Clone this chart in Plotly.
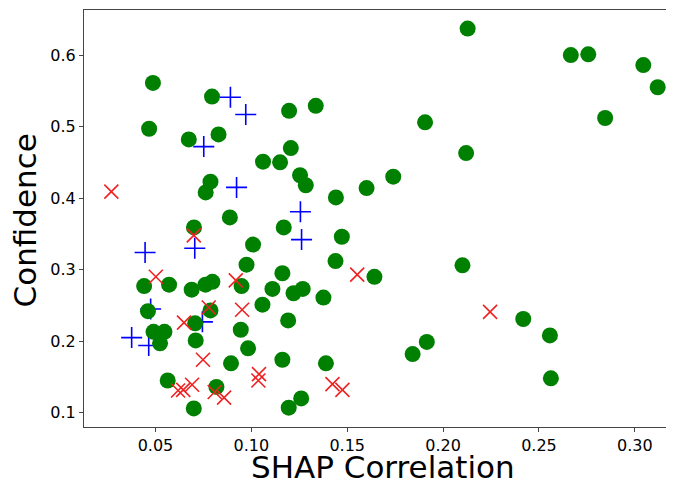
import plotly.graph_objects as go

# Green circles
green_x = [0.0487, 0.0795, 0.1197, 0.1336, 0.0467, 0.0674, 0.0829, 0.1206, 0.1061, 0.1150,
           0.1254, 0.1284, 0.1441, 0.1601, 0.0787, 0.0762, 0.0888, 0.0701, 0.1169, 0.1472,
           0.1009, 0.0975, 0.1439, 0.1162, 0.1642, 0.0441, 0.0571, 0.0689, 0.0761, 0.0797,
           0.0949, 0.1110, 0.1220, 0.1268, 0.1376, 0.1058, 0.0461, 0.0787, 0.0707, 0.1192,
           0.0490, 0.0547, 0.0524, 0.0710, 0.0945, 0.0983, 0.0894, 0.1162, 0.1389, 0.0564,
           0.0818, 0.0700, 0.1195, 0.1260, 0.2128, 0.2666, 0.2757, 0.3044, 0.3119, 0.2845,
           0.1906, 0.2120, 0.1740, 0.2101, 0.2418, 0.2557, 0.1915, 0.1841, 0.2562]
green_y = [0.561, 0.542, 0.522, 0.529, 0.497, 0.482, 0.489, 0.470, 0.451, 0.450,
           0.432, 0.418, 0.401, 0.414, 0.423, 0.408, 0.373, 0.359, 0.359, 0.346,
           0.335, 0.307, 0.312, 0.295, 0.290, 0.277, 0.279, 0.272, 0.279, 0.283,
           0.277, 0.273, 0.267, 0.273, 0.261, 0.251, 0.242, 0.243, 0.225, 0.229,
           0.213, 0.213, 0.197, 0.201, 0.216, 0.190, 0.169, 0.174, 0.169, 0.145,
           0.136, 0.106, 0.107, 0.120, 0.637, 0.600, 0.601, 0.586, 0.555, 0.512,
           0.506, 0.463, 0.430, 0.306, 0.231, 0.208, 0.199, 0.182, 0.148]

# Blue plus markers
blue_x = [0.0891, 0.0971, 0.0752, 0.0923, 0.1256, 0.1262, 0.0446, 0.0705, 0.0475, 0.0745,
          0.0376, 0.0465]
blue_y = [0.541, 0.517, 0.472, 0.415, 0.381, 0.342, 0.324, 0.330, 0.245, 0.227,
          0.205, 0.194]

# Red x markers
red_x = [0.0270, 0.0700, 0.0502, 0.0919, 0.1552, 0.0778, 0.0952, 0.0649, 0.0748, 0.1040,
         0.1037, 0.0618, 0.0645, 0.0691, 0.0809, 0.0858, 0.1423, 0.1475, 0.2245]
red_y = [0.409, 0.348, 0.290, 0.285, 0.293, 0.247, 0.244, 0.226, 0.174, 0.154,
         0.145, 0.131, 0.132, 0.139, 0.129, 0.121, 0.140, 0.132, 0.241]

x_ticks = [0.05, 0.10, 0.15, 0.20, 0.25, 0.30]
x_tick_labels = ["0.05", "0.10", "0.15", "0.20", "0.25", "0.30"]
y_ticks = [0.1, 0.2, 0.3, 0.4, 0.5, 0.6]
y_tick_labels = ["0.1", "0.2", "0.3", "0.4", "0.5", "0.6"]
x_title = "SHAP Correlation"
y_title = "Confidence"

fig = go.Figure()
fig.add_trace(go.Scatter(x=blue_x, y=blue_y, mode="markers",
                         marker=dict(symbol="cross-thin", size=15,
                                     line=dict(color="#0000ff", width=1.6))))
fig.add_trace(go.Scatter(x=green_x, y=green_y, mode="markers",
                         marker=dict(symbol="circle", size=16, color="#008000",
                                     line=dict(width=0))))
fig.add_trace(go.Scatter(x=red_x, y=red_y, mode="markers",
                         marker=dict(symbol="x-thin", size=14,
                                     line=dict(color="#ee2222", width=1.6))))

axis_common = dict(showgrid=False, zeroline=False, showline=True, linecolor="#444444",
                   linewidth=1, ticks="outside", ticklen=4, automargin=False,
                   tickcolor="#444444", tickfont=dict(family="DejaVu Sans", size=16, color="black"))

# page body has an 8px margin, so the figure is sized/offset to compensate
fig.update_layout(
    width=666, height=476,
    margin=dict(l=76, r=0, t=2, b=57),
    paper_bgcolor="white", plot_bgcolor="white",
    showlegend=False,
    xaxis=dict(range=[0.01275, 0.3204], tickvals=x_ticks, ticktext=x_tick_labels,
               mirror=True, **axis_common),
    yaxis=dict(range=[0.080, 0.663], tickvals=y_ticks, ticktext=y_tick_labels,
               mirror=False, **axis_common),
    annotations=[
        dict(text=x_title, xref="paper", yref="paper", x=0.5068, y=-0.0959, xanchor="center",
             yanchor="middle", showarrow=False,
             font=dict(family="DejaVu Sans", size=31, color="black")),
        dict(text=y_title, xref="paper", yref="paper", x=-0.0992, y=0.4964, xanchor="center",
             yanchor="middle", textangle=-90, showarrow=False,
             font=dict(family="DejaVu Sans", size=31, color="black")),
    ],
)

fig.write_html("out.html")
